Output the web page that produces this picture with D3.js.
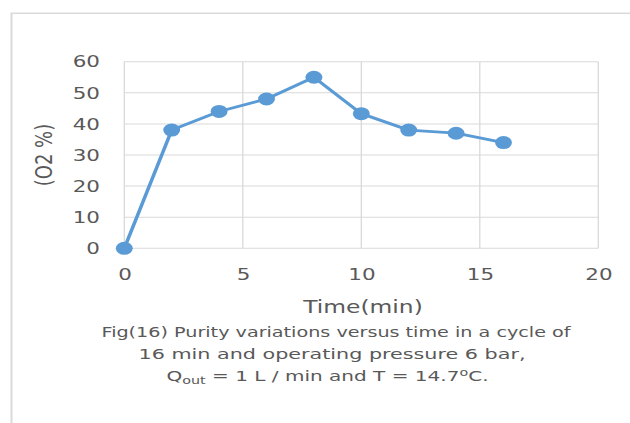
<!DOCTYPE html>
<html>
<head>
<meta charset="utf-8">
<script src="https://cdn.jsdelivr.net/npm/d3@7"></script>
<style>
  body { margin: 0; background: #fff; }
  text { font-family: "DejaVu Sans", sans-serif; fill: #595959; }
</style>
</head>
<body>
<div id="chart"></div>
<script>
// data
const times = [0, 2, 4, 6, 8, 10, 12, 14, 16];
const purity = [0, 38, 44, 48, 55, 43.3, 38, 37, 34];
const xTicks = [0, 5, 10, 15, 20];
const yTicks = [0, 10, 20, 30, 40, 50, 60];
const captionLines = [
  "Fig(16) Purity variations versus time in a cycle of",
  "16 min and operating pressure 6 bar,"
];

// the original picture is stretched sideways, so draw in a narrower box and stretch it
const stretch = 1.3;
const W = 630, H = 423;
const vw = W / stretch;

const svg = d3.select("#chart")
  .append("svg")
  .attr("width", W)
  .attr("height", H)
  .attr("viewBox", `0 0 ${vw} ${H}`)
  .attr("preserveAspectRatio", "none");

// outer frame
svg.append("rect")
  .attr("x", 11.5 / stretch)
  .attr("y", 13.3)
  .attr("width", vw)
  .attr("height", H)
  .attr("fill", "none")
  .attr("stroke", "#d9d9d9")
  .attr("stroke-width", 1.5);

const plotL = 124.3 / stretch, plotR = 598.3 / stretch;
const plotT = 61.7, plotB = 248.3;

const x = d3.scaleLinear().domain([0, 20]).range([plotL, plotR]);
const y = d3.scaleLinear().domain([0, 60]).range([plotB, plotT]);

// grid
svg.append("g").selectAll("line")
  .data(yTicks).enter().append("line")
  .attr("x1", plotL).attr("x2", plotR)
  .attr("y1", d => y(d)).attr("y2", d => y(d))
  .attr("stroke", "#d9d9d9").attr("stroke-width", 1);

svg.append("g").selectAll("line")
  .data(xTicks).enter().append("line")
  .attr("x1", d => x(d)).attr("x2", d => x(d))
  .attr("y1", plotT).attr("y2", plotB)
  .attr("stroke", "#d9d9d9").attr("stroke-width", 1);

// tick labels
const xAxis = svg.append("g")
  .attr("transform", `translate(0,${plotB})`)
  .call(d3.axisBottom(x).tickValues(xTicks).tickSize(0).tickPadding(19.5));
const yAxis = svg.append("g")
  .attr("transform", `translate(${plotL},0)`)
  .call(d3.axisLeft(y).tickValues(yTicks).tickSize(0).tickPadding(18.7));
[xAxis, yAxis].forEach(a => {
  a.select(".domain").remove();
  a.selectAll("text")
    .style("font-family", '"DejaVu Sans", sans-serif')
    .style("font-size", "16.5px")
    .attr("fill", "#595959");
});

// axis titles
svg.append("text")
  .attr("x", 363 / stretch)
  .attr("y", 313)
  .attr("text-anchor", "middle")
  .style("font-size", "18px")
  .text("Time(min)");

svg.append("text")
  .attr("transform", `translate(${52 / stretch},${(plotT + plotB) / 2}) rotate(-90)`)
  .attr("text-anchor", "middle")
  .style("font-size", "18px")
  .text("(O2 %)");

// series
const pts = times.map((t, i) => [t, purity[i]]);
svg.append("path")
  .datum(pts)
  .attr("fill", "none")
  .attr("stroke", "#5b9bd5")
  .attr("stroke-width", 2.8)
  .attr("stroke-linejoin", "round")
  .attr("d", d3.line().x(d => x(d[0])).y(d => y(d[1])));

svg.append("g").selectAll("circle")
  .data(pts).enter().append("circle")
  .attr("cx", d => x(d[0]))
  .attr("cy", d => y(d[1]))
  .attr("r", 6.5)
  .attr("fill", "#5b9bd5");

// caption, three centred lines
const capX = [336, 332, 327.5].map(v => v / stretch);
const capY = [337, 359.5, 381.5];
const capLen = [469, 387, 322].map(v => v / stretch);
captionLines.forEach((s, i) => {
  svg.append("text")
    .attr("x", capX[i]).attr("y", capY[i])
    .attr("text-anchor", "middle")
    .attr("textLength", capLen[i])
    .attr("lengthAdjust", "spacingAndGlyphs")
    .style("font-size", "14px")
    .text(s);
});
const last = svg.append("text")
  .attr("x", capX[2]).attr("y", capY[2])
  .attr("text-anchor", "middle")
  .attr("textLength", capLen[2])
  .attr("lengthAdjust", "spacingAndGlyphs")
  .style("font-size", "14px");
last.append("tspan").text("Q");
last.append("tspan").attr("dy", 3).style("font-size", "10px").text("out");
last.append("tspan").attr("dy", -3).text(" = 1 L / min and T = 14.7");
last.append("tspan").attr("dy", -5).style("font-size", "10px").text("o");
last.append("tspan").attr("dy", 5).text("C.");
</script>
</body>
</html>
